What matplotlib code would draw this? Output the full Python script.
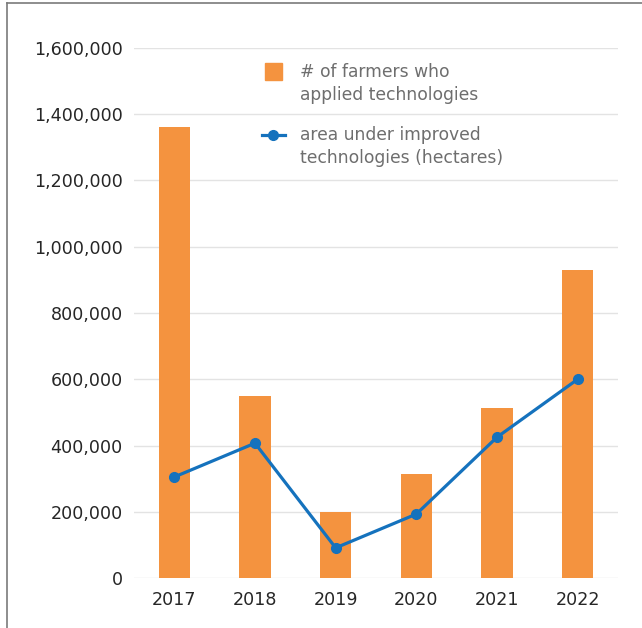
import numpy as np
import matplotlib
matplotlib.use("Agg")
import matplotlib.pyplot as plt
from matplotlib.lines import Line2D
from matplotlib.patches import Rectangle
from matplotlib.ticker import FuncFormatter

years = ["2017", "2018", "2019", "2020", "2021", "2022"]
farmers = [1360000, 550000, 200000, 314000, 513000, 930000]
area = [305000, 407000, 91000, 193000, 425000, 600000]
bar_label = "# of farmers who\napplied technologies"
line_label = "area under improved\ntechnologies (hectares)"

orange = "#F4933F"
blue = "#1572BD"

plt.rcParams["font.family"] = "DejaVu Sans"

fig = plt.figure(figsize=(6.42, 6.28), dpi=100)
ax = fig.add_axes([0.2087, 0.0796, 0.7539, 0.844])

x = np.arange(len(years))
ax.bar(x, farmers, width=0.39, color=orange, zorder=2)
ax.plot(x, area, color=blue, lw=2.3, marker="o", ms=7, zorder=3)

ax.set_ylim(0, 1600000)
ax.set_xlim(-0.5, len(years) - 0.5)
ax.set_yticks(np.arange(0, 1600001, 200000))
ax.yaxis.set_major_formatter(FuncFormatter(lambda v, p: f"{int(v):,}"))
ax.set_xticks(x)
ax.set_xticklabels(years)
ax.grid(axis="y", color="#e3e3e3", lw=1, zorder=0)
for s in ax.spines.values():
    s.set_visible(False)
ax.tick_params(axis="both", length=0, labelsize=12.6, colors="#262626")
ax.tick_params(axis="y", pad=8)
ax.tick_params(axis="x", pad=9)

# legend, handles aligned with the first line of each label
tr = ax.transAxes
ax.add_patch(Rectangle((0.2707, 0.9396), 0.0351, 0.0321, transform=tr,
                       color=orange, clip_on=False))
ax.add_line(Line2D([0.2645, 0.312], [0.836, 0.836], transform=tr, color=blue,
                   lw=2.3, clip_on=False))
ax.add_line(Line2D([0.2882], [0.836], transform=tr, color=blue, marker="o",
                   ms=7, clip_on=False))
ax.text(0.343, 0.933, bar_label, transform=tr, va="center", ha="left",
        fontsize=12.3, color="#6e6e6e", linespacing=1.35)
ax.text(0.343, 0.814, line_label, transform=tr, va="center", ha="left",
        fontsize=12.3, color="#6e6e6e", linespacing=1.35)

# frame on left and top of the figure
fig.add_artist(Line2D([7 / 642, 7 / 642], [0, 1 - 3 / 628], color="#7a7a7a", lw=1.2))
fig.add_artist(Line2D([7 / 642, 1], [1 - 3 / 628, 1 - 3 / 628], color="#7a7a7a", lw=1.2))

fig.savefig("out.png", dpi=100)
